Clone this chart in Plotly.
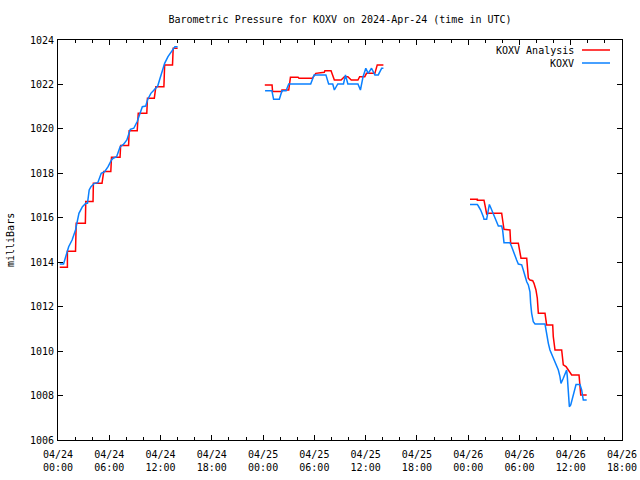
import pandas as pd
import plotly.graph_objects as go

BASE = pd.Timestamp("2024-04-24 00:00")
title_text = "Barometric Pressure for KOXV on 2024-Apr-24 (time in UTC)"
y_label = "milliBars"
series_names = ["KOXV Analysis", "KOXV"]
series_colors = ["#ff0000", "#0a80ff"]

# hours since 2024-04-24 00:00 UTC, pressure (mb)
analysis_hours_1 = [0.2, 1.1, 1.1, 2.05, 2.13, 3.2, 3.25, 4.1, 4.14, 5.15, 5.35, 6.18, 6.26, 7.26, 7.33, 8.26,
                    8.33, 9.27, 9.39, 10.39, 10.47, 11.27, 11.45, 12.39, 12.48, 13.4, 13.48, 14.0]
analysis_vals_1 = [1013.77, 1013.77, 1014.49, 1014.49, 1015.75, 1015.75, 1016.73, 1016.73, 1017.55, 1017.55,
                   1018.08, 1018.08, 1018.72, 1018.72, 1019.25, 1019.25, 1019.92, 1019.92, 1020.7, 1020.7,
                   1021.38, 1021.38, 1021.9, 1021.9, 1022.88, 1022.88, 1023.63, 1023.63]
analysis_hours_2 = [24.2, 25.05, 25.11, 26.2, 26.21, 27.0, 27.2, 28.1, 28.2, 29.77, 30.17, 31.16, 31.23, 31.95,
                    32.34, 33.13, 33.52, 33.92, 34.32, 35.1, 35.3, 35.9, 36.1, 37.08, 37.36, 38.08]
analysis_vals_2 = [1021.98, 1021.98, 1021.68, 1021.68, 1021.75, 1021.75, 1022.32, 1022.32, 1022.28, 1022.28,
                   1022.5, 1022.55, 1022.62, 1022.62, 1022.2, 1022.2, 1022.35, 1022.35, 1022.2, 1022.2,
                   1022.35, 1022.35, 1022.5, 1022.5, 1022.88, 1022.88]
analysis_hours_3 = [48.21, 49.07, 49.07, 49.85, 50.0, 50.16, 50.36, 51.92, 52.03, 52.19, 52.89, 52.97, 53.87,
                    54.06, 54.18, 54.85, 54.92, 55.04, 55.23, 55.55, 55.7, 55.93, 56.09, 56.21, 56.99, 57.1,
                    57.18, 57.89, 57.96, 58.16, 58.94, 59.13, 59.45, 59.72, 60.11, 60.97, 61.08, 61.17, 61.87]
analysis_vals_3 = [1016.83, 1016.83, 1016.79, 1016.79, 1016.5, 1016.17, 1016.2, 1016.2, 1015.9, 1015.48,
                   1015.45, 1014.85, 1014.85, 1014.47, 1014.18, 1014.18, 1013.8, 1013.28, 1013.2, 1013.17,
                   1013.05, 1012.75, 1012.38, 1011.7, 1011.7, 1011.4, 1011.18, 1011.18, 1010.65, 1010.05,
                   1010.05, 1009.38, 1009.3, 1009.15, 1008.93, 1008.93, 1008.55, 1008.03, 1008.03]

obs_hours_1 = [0.2, 0.65, 1.25, 1.65, 2.05, 2.25, 2.45, 2.86, 3.25, 3.45, 3.65, 3.86, 4.26, 4.66, 5.06, 5.46,
               5.86, 6.26, 6.46, 6.86, 7.27, 7.66, 8.06, 8.46, 8.87, 9.27, 9.67, 9.87, 10.27, 10.47, 10.87,
               11.27, 11.67, 11.88, 12.28, 12.48, 12.87, 13.27, 13.68, 14.0]
obs_vals_1 = [1013.92, 1013.92, 1014.7, 1015.0, 1015.45, 1015.9, 1016.2, 1016.5, 1016.65, 1016.65, 1017.25,
              1017.4, 1017.55, 1017.58, 1018.0, 1018.08, 1018.3, 1018.6, 1018.68, 1018.75, 1019.2, 1019.3,
              1019.5, 1019.98, 1020.03, 1020.33, 1020.78, 1021.0, 1021.03, 1021.3, 1021.6, 1021.75, 1021.93,
              1022.2, 1022.65, 1022.95, 1023.25, 1023.48, 1023.7, 1023.7]
obs_hours_2 = [24.23, 25.03, 25.23, 25.9, 26.21, 26.69, 27.0, 29.57, 29.97, 31.35, 31.67, 32.15, 32.34, 32.74,
               33.41, 33.64, 33.92, 35.1, 35.39, 35.7, 36.02, 36.3, 36.69, 37.08, 37.48, 37.88, 38.08]
obs_vals_2 = [1021.72, 1021.72, 1021.33, 1021.33, 1021.72, 1021.72, 1022.02, 1022.02, 1022.43, 1022.43,
              1022.02, 1022.02, 1021.75, 1022.02, 1022.02, 1022.43, 1022.02, 1022.02, 1021.75, 1022.35,
              1022.73, 1022.5, 1022.73, 1022.43, 1022.43, 1022.73, 1022.73]
obs_hours_3 = [48.21, 49.07, 49.19, 49.46, 49.77, 49.85, 50.16, 50.36, 50.48, 50.67, 50.94, 51.14, 51.34,
               51.53, 51.92, 52.03, 52.19, 52.89, 53.09, 53.28, 53.48, 53.67, 53.87, 54.26, 54.45, 54.65,
               54.85, 55.04, 55.23, 55.31, 55.43, 55.62, 55.82, 56.99, 57.1, 57.26, 57.38, 57.57, 57.89,
               58.16, 58.35, 58.55, 58.74, 58.86, 59.13, 59.33, 59.45, 59.52, 59.6, 59.72, 59.84, 60.0,
               60.23, 60.5, 60.62, 61.08, 61.28, 61.47, 61.87]
obs_vals_3 = [1016.6, 1016.6, 1016.53, 1016.35, 1016.05, 1015.93, 1015.93, 1016.35, 1016.6, 1016.43,
              1016.17, 1015.98, 1015.83, 1015.63, 1015.63, 1015.45, 1014.88, 1014.88, 1014.7, 1014.47,
              1014.25, 1014.1, 1013.92, 1013.88, 1013.65, 1013.35, 1013.12, 1012.98, 1012.67, 1012.15,
              1011.7, 1011.32, 1011.22, 1011.22, 1010.95, 1010.65, 1010.35, 1010.05, 1009.75, 1009.52,
              1009.38, 1009.15, 1008.85, 1008.55, 1008.78, 1009.0, 1009.15, 1009.15, 1008.85, 1008.25,
              1007.5, 1007.58, 1007.95, 1008.4, 1008.5, 1008.5, 1008.25, 1007.8, 1007.8]

x_start_hours, x_end_hours = 0, 66
y_min, y_max, y_step = 1006, 1024, 2


def join(segments):
    xs, ys = [], []
    for hrs, vals in segments:
        if xs:
            xs.append(None)
            ys.append(None)
        xs.extend(BASE + pd.Timedelta(hours=h) for h in hrs)
        ys.extend(vals)
    return xs, ys


ax, ay = join([(analysis_hours_1, analysis_vals_1), (analysis_hours_2, analysis_vals_2),
               (analysis_hours_3, analysis_vals_3)])
ox, oy = join([(obs_hours_1, obs_vals_1), (obs_hours_2, obs_vals_2), (obs_hours_3, obs_vals_3)])

FONT = "DejaVu Sans Mono"
fig = go.Figure()
fig.add_trace(go.Scatter(x=ax, y=ay, mode="lines", name=series_names[0],
                         line=dict(color=series_colors[0], width=1.5), connectgaps=False))
fig.add_trace(go.Scatter(x=ox, y=oy, mode="lines", name=series_names[1],
                         line=dict(color=series_colors[1], width=1.5), connectgaps=False))

# plot area at x 58..622, y 40..440
fig.update_layout(
    width=640, height=480,
    margin=dict(l=58, r=18, t=40, b=40, autoexpand=False),
    paper_bgcolor="white", plot_bgcolor="white",
    showlegend=False,
    font=dict(family=FONT, size=10, color="black"),
    title=dict(text=title_text, x=0.5, xref="paper", xanchor="center",
               y=1 - 19 / 480, yref="container", yanchor="middle",
               font=dict(family=FONT, size=10, color="black")),
)
fig.update_xaxes(
    type="date", automargin=False,
    range=[BASE + pd.Timedelta(hours=x_start_hours), BASE + pd.Timedelta(hours=x_end_hours)],
    dtick=6 * 3600 * 1000, tick0=BASE, tickformat="%m/%d<br>%H:%M",
    showgrid=False, zeroline=False,
    showline=True, linecolor="black", linewidth=1, mirror="ticks",
    ticks="inside", ticklen=5, tickcolor="black", ticklabelstandoff=5,
    minor=dict(dtick=2 * 3600 * 1000, tick0=BASE, ticks="inside", ticklen=3, tickcolor="black", showgrid=False),
    tickfont=dict(family=FONT, size=10),
)
fig.update_yaxes(
    automargin=False,
    range=[y_min, y_max], dtick=y_step, tick0=y_min,
    showgrid=False, zeroline=False,
    showline=True, linecolor="black", linewidth=1, mirror="ticks",
    ticks="inside", ticklen=5, tickcolor="black", ticklabelstandoff=1,
    tickfont=dict(family=FONT, size=10),
)

fig.add_annotation(text=y_label, xref="paper", yref="paper", x=-48 / 564, y=0.5,
                   textangle=-90, showarrow=False, xanchor="center", yanchor="middle",
                   font=dict(family=FONT, size=10))

# gnuplot-style key: text right-aligned, line sample after it
key_rows = [(50, series_names[0], series_colors[0]), (63, series_names[1], series_colors[1])]
for ypx, name, col in key_rows:
    yp = (440 - ypx) / 400
    fig.add_annotation(text=name, xref="paper", yref="paper", x=(576 - 58) / 564, y=yp,
                       xanchor="right", yanchor="middle", showarrow=False,
                       font=dict(family=FONT, size=10))
    fig.add_shape(type="line", xref="paper", yref="paper",
                  x0=(582 - 58) / 564, x1=(610 - 58) / 564, y0=yp, y1=yp,
                  line=dict(color=col, width=1.5))

fig.write_html("out.html",
               config={"displayModeBar": False, "staticPlot": True},
               post_script="document.body.style.margin='0';document.body.style.overflow='hidden';")
